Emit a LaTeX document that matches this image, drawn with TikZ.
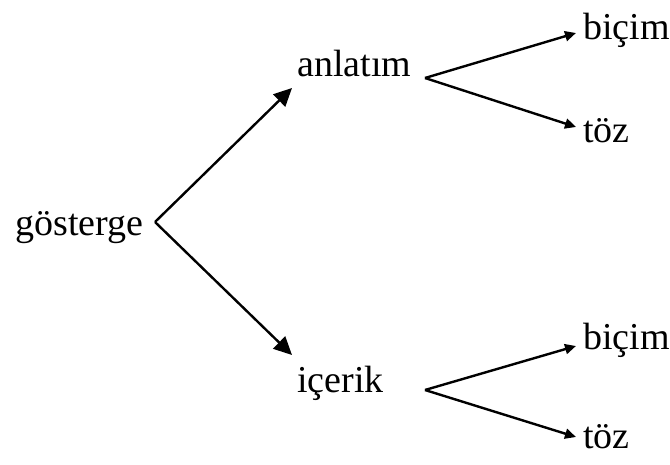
\documentclass[tikz,border=0pt]{standalone}
\usepackage{fontspec}
\setmainfont{Liberation Serif}
\usetikzlibrary{arrows.meta}
\usetikzlibrary{positioning}

\begin{document}
\begin{tikzpicture}[x=0.5pt,y=-0.5pt, every node/.style={inner sep=0pt, anchor=base west, font=\fontsize{19}{22}\selectfont},
  bigarrow/.style={line width=1.2pt, -{Triangle[length=9pt,width=8.5pt]}},
  smallarrow/.style={line width=1.2pt, -{Triangle[length=5.5pt,width=5pt]}}]

  \useasboundingbox (0,0) rectangle (670,465);

  % Words
  \node (gosterge) at (15,235) {gösterge};
  \node (anlatim) at (297,77) {anlatım};
  \node (icerik) at (297,392) {içerik};
  \node (bicimA) at (583,40) {biçim};
  \node (tozA) at (583,143) {töz};
  \node (bicimB) at (583,350) {biçim};
  \node (tozB) at (583,448) {töz};

  % Branch points
  \coordinate (g) at (155,222);
  \coordinate (a) at (425,78);
  \coordinate (i) at (425,390);

  % Main arrows
  \draw[bigarrow] (g) -- ([shift={(-5,11)}]anlatim.base west);
  \draw[bigarrow] (g) -- ([shift={(-5,-37)}]icerik.base west);

  % Sub arrows
  \draw[smallarrow] (a) -- ([shift={(-7,-7)}]bicimA.base west);
  \draw[smallarrow] (a) -- ([shift={(-7,-16)}]tozA.base west);
  \draw[smallarrow] (i) -- ([shift={(-7,-4)}]bicimB.base west);
  \draw[smallarrow] (i) -- ([shift={(-7,-11)}]tozB.base west);

\end{tikzpicture}
\end{document}
